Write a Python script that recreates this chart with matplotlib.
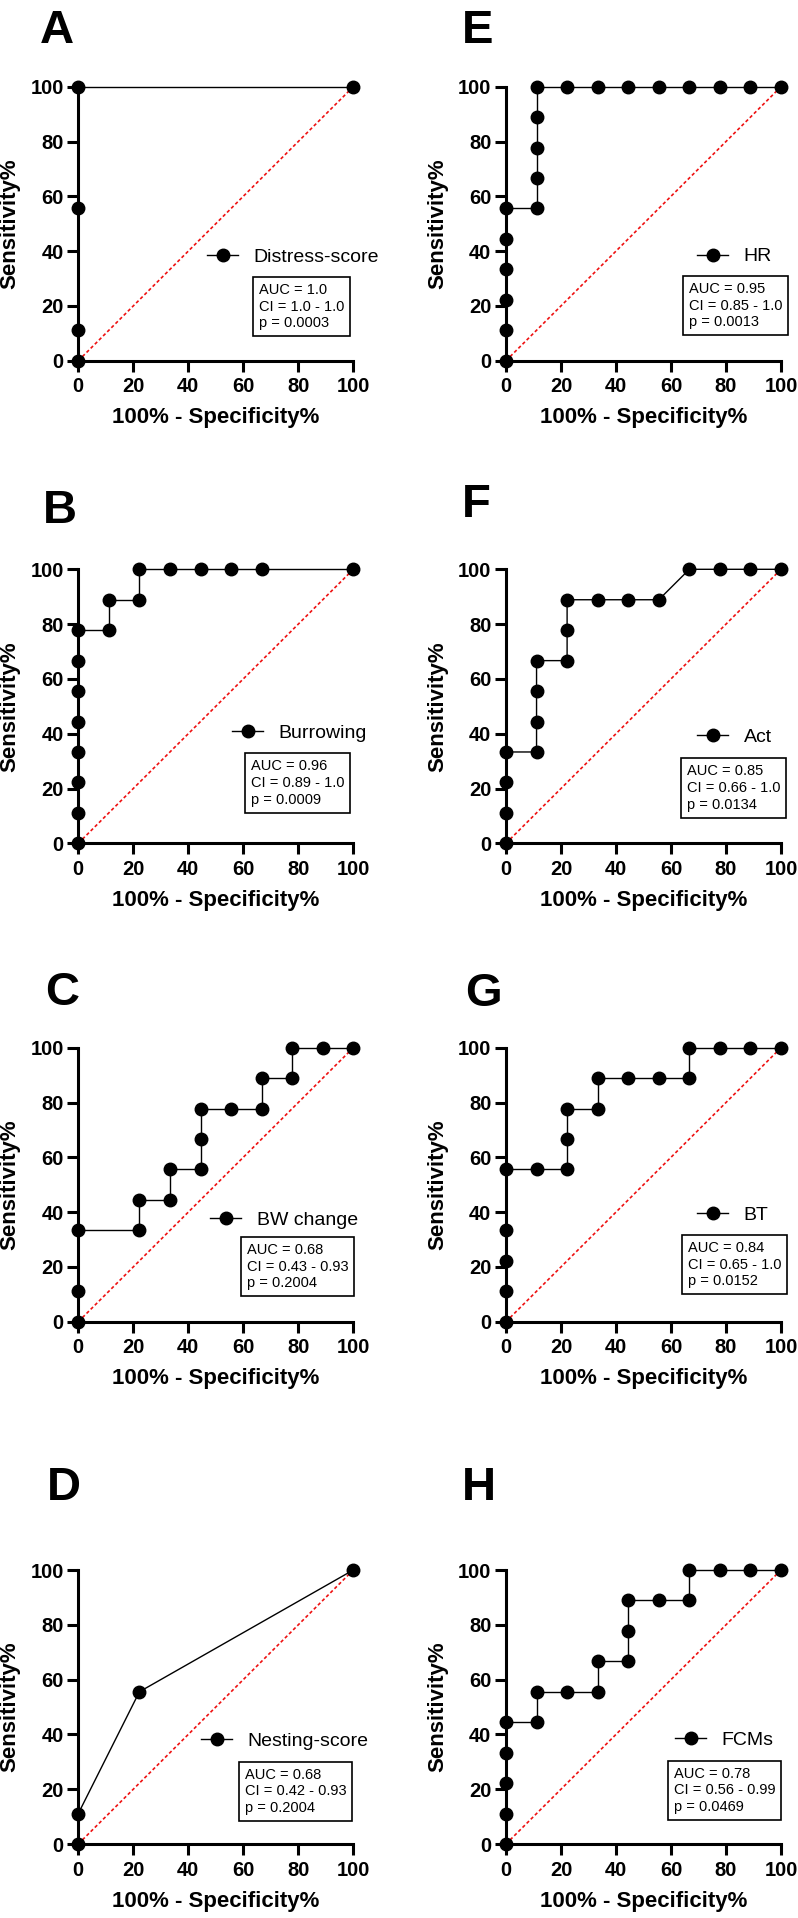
import matplotlib
matplotlib.use('Agg')
import matplotlib.pyplot as plt

plt.rcParams['font.family'] = ['Liberation Sans', 'DejaVu Sans']

# ROC data (100% - Specificity%, Sensitivity%)
distress_x = [0, 0, 0, 0, 100]
distress_y = [0, 11.11, 55.56, 100, 100]

burrow_x = [0, 0, 0, 0, 0, 0, 0, 0, 11.11, 11.11, 22.22, 22.22, 33.33, 44.44, 55.56, 66.67, 100]
burrow_y = [0, 11.11, 22.22, 33.33, 44.44, 55.56, 66.67, 77.78, 77.78, 88.89, 88.89, 100, 100, 100, 100, 100, 100]

bw_x = [0, 0, 0, 22.22, 22.22, 33.33, 33.33, 44.44, 44.44, 44.44, 55.56, 66.67, 66.67, 77.78, 77.78, 88.89, 100]
bw_y = [0, 11.11, 33.33, 33.33, 44.44, 44.44, 55.56, 55.56, 66.67, 77.78, 77.78, 77.78, 88.89, 88.89, 100, 100, 100]

nest_x = [0, 0, 22.22, 100]
nest_y = [0, 11.11, 55.56, 100]

hr_x = [0, 0, 0, 0, 0, 0, 11.11, 11.11, 11.11, 11.11, 11.11, 22.22, 33.33, 44.44, 55.56, 66.67, 77.78, 88.89, 100]
hr_y = [0, 11.11, 22.22, 33.33, 44.44, 55.56, 55.56, 66.67, 77.78, 88.89, 100, 100, 100, 100, 100, 100, 100, 100, 100]

act_x = [0, 0, 0, 0, 11.11, 11.11, 11.11, 11.11, 22.22, 22.22, 22.22, 33.33, 44.44, 55.56, 66.67, 77.78, 88.89, 100]
act_y = [0, 11.11, 22.22, 33.33, 33.33, 44.44, 55.56, 66.67, 66.67, 77.78, 88.89, 88.89, 88.89, 88.89, 100, 100, 100, 100]

bt_x = [0, 0, 0, 0, 0, 11.11, 22.22, 22.22, 22.22, 33.33, 33.33, 44.44, 55.56, 66.67, 66.67, 77.78, 88.89, 100]
bt_y = [0, 11.11, 22.22, 33.33, 55.56, 55.56, 55.56, 66.67, 77.78, 77.78, 88.89, 88.89, 88.89, 88.89, 100, 100, 100, 100]

fcm_x = [0, 0, 0, 0, 0, 11.11, 11.11, 22.22, 33.33, 33.33, 44.44, 44.44, 44.44, 55.56, 66.67, 66.67, 77.78, 88.89, 100]
fcm_y = [0, 11.11, 22.22, 33.33, 44.44, 44.44, 55.56, 55.56, 55.56, 66.67, 66.67, 77.78, 88.89, 88.89, 88.89, 100, 100, 100, 100]

letters = ['A', 'B', 'C', 'D', 'E', 'F', 'G', 'H']
names = ['Distress-score', 'Burrowing', 'BW change', 'Nesting-score', 'HR', 'Act', 'BT', 'FCMs']
xs = [distress_x, burrow_x, bw_x, nest_x, hr_x, act_x, bt_x, fcm_x]
ys = [distress_y, burrow_y, bw_y, nest_y, hr_y, act_y, bt_y, fcm_y]
auc = ['1.0', '0.96', '0.68', '0.68', '0.95', '0.85', '0.84', '0.78']
ci = ['1.0 - 1.0', '0.89 - 1.0', '0.43 - 0.93', '0.42 - 0.93', '0.85 - 1.0', '0.66 - 1.0', '0.65 - 1.0', '0.56 - 0.99']
pval = ['0.0003', '0.0009', '0.2004', '0.2004', '0.0013', '0.0134', '0.0152', '0.0469']

W, H = 798, 1918
fig = plt.figure(figsize=(W / 100, H / 100), dpi=100)

col_x = [78.3, 78.3, 78.3, 78.3, 506, 506, 506, 506]
row_top = [86.7, 569.3, 1047.7, 1570, 86.7, 569.3, 1047.7, 1570]
# legend (handle left, centre y) and stats box (left, top) in axes fractions
leg_pos = [(0.468, 0.378), (0.559, 0.401), (0.479, 0.371), (0.446, 0.377),
           (0.695, 0.380), (0.695, 0.389), (0.695, 0.389), (0.615, 0.378)]
box_pos = [(0.635, 0.305), (0.606, 0.328), (0.592, 0.309), (0.585, 0.300),
           (0.644, 0.309), (0.636, 0.310), (0.640, 0.316), (0.589, 0.304)]
letter_pos = [(40, 43), (43, 523), (45, 1005), (47, 1500),
              (462, 43), (462, 517), (465, 1006), (462, 1500)]

for i in range(8):
    ax = fig.add_axes([col_x[i] / W, 1 - (row_top[i] + 274) / H, 275 / W, 274 / H])
    ax.plot([0, 100], [0, 100], color='#ee1111', ls=(0, (2, 1.5)), lw=1.2, zorder=2)
    ax.plot(xs[i], ys[i], color='black', lw=1, marker='o', ms=9, clip_on=False, zorder=3, label=names[i])
    ax.set_xlim(0, 100)
    ax.set_ylim(0, 100)
    ax.set_xticks([0, 20, 40, 60, 80, 100])
    ax.set_yticks([0, 20, 40, 60, 80, 100])
    ax.spines['top'].set_visible(False)
    ax.spines['right'].set_visible(False)
    ax.spines['left'].set_linewidth(2.2)
    ax.spines['bottom'].set_linewidth(2.2)
    ax.tick_params(width=2.2, length=8, labelsize=14.5)
    ax.tick_params(axis='x', pad=4)
    ax.tick_params(axis='y', pad=2.5)
    for lbl in ax.get_xticklabels() + ax.get_yticklabels():
        lbl.set_fontweight('bold')
    ax.set_xlabel('100% - Specificity%', fontsize=16, fontweight='bold', labelpad=8)
    ax.set_ylabel('Sensitivity%', fontsize=16, fontweight='bold', labelpad=7)

    ax.legend(loc='center left', bbox_to_anchor=leg_pos[i], frameon=False, fontsize=14,
              handlelength=1.6, handletextpad=0.8, borderpad=0, borderaxespad=0)

    ax.annotate('AUC = ' + auc[i] + '\nCI = ' + ci[i] + '\np = ' + pval[i],
                xy=box_pos[i], xycoords='axes fraction', xytext=(4.2, -4.2), textcoords='offset points',
                ha='left', va='top', fontsize=10.5, linespacing=1.25,
                bbox=dict(boxstyle='square,pad=0.4', fc='white', ec='black', lw=1.2))

    fig.text(letter_pos[i][0] / W, 1 - letter_pos[i][1] / H, letters[i], fontsize=34,
             fontweight='bold', ha='left', va='baseline')

plt.savefig('out.png', dpi=100)
